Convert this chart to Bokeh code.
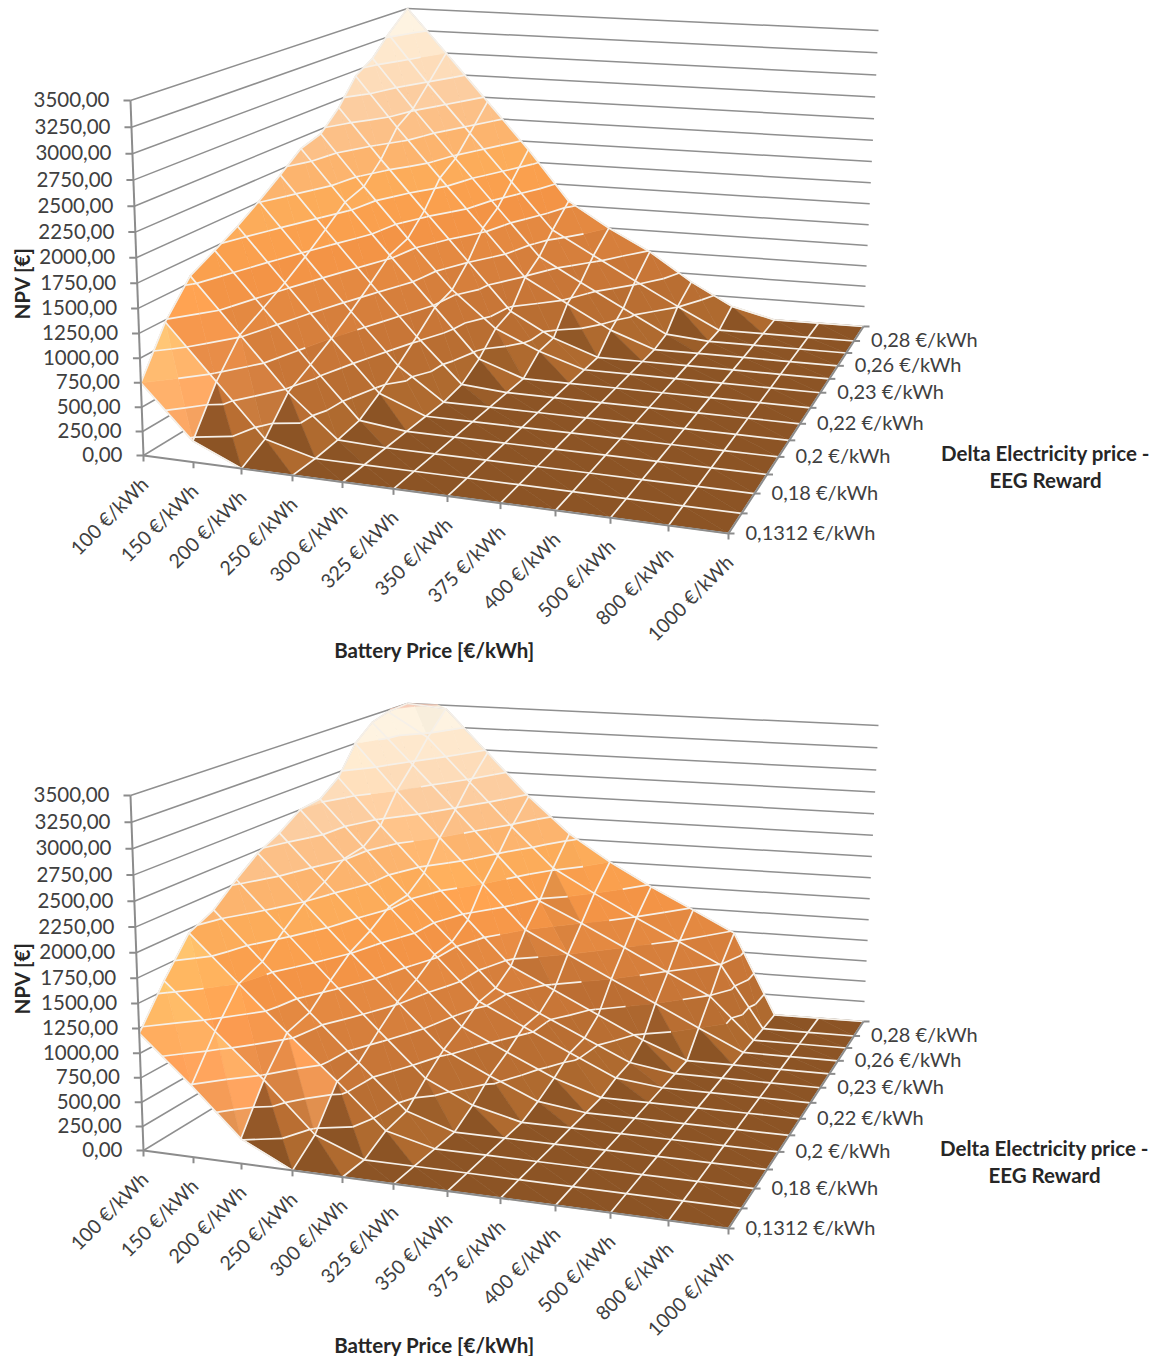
import numpy as np
from bokeh.core.properties import value
from bokeh.embed import file_html
from bokeh.layouts import column
from bokeh.models import Range1d
from bokeh.plotting import figure
from bokeh.resources import INLINE

PRICE_LABELS = ["100 €/kWh", "150 €/kWh", "200 €/kWh", "250 €/kWh", "300 €/kWh", "325 €/kWh",
                "350 €/kWh", "375 €/kWh", "400 €/kWh", "500 €/kWh", "800 €/kWh", "1000 €/kWh"]
DELTA_LABELS = ["0,1312 €/kWh", "0,18 €/kWh", "0,2 €/kWh", "0,22 €/kWh", "0,23 €/kWh", "0,26 €/kWh", "0,28 €/kWh"]
NPV_TICKS = [0, 250, 500, 750, 1000, 1250, 1500, 1750, 2000, 2250, 2500, 2750, 3000, 3250, 3500]

# one row per series, front (0,1312) to back; columns follow PRICE_LABELS
NPV_TOP = [
    [750, 220, 0, 0, 0, 0, 0, 0, 0, 0, 0, 0],
    [1230, 680, 140, 0, 0, 0, 0, 0, 0, 0, 0, 0],
    [1570, 1020, 470, 20, 0, 0, 0, 0, 0, 0, 0, 0],
    [1710, 1160, 610, 60, 0, 0, 0, 0, 0, 0, 0, 0],
    [1850, 1300, 750, 200, 0, 0, 0, 0, 0, 0, 0, 0],
    [2010, 1460, 910, 360, 0, 0, 0, 0, 0, 0, 0, 0],
    [2190, 1640, 1090, 540, 40, 0, 0, 0, 0, 0, 0, 0],
    [2380, 1830, 1280, 730, 180, 0, 0, 0, 0, 0, 0, 0],
    [2450, 1900, 1350, 800, 390, 170, 0, 0, 0, 0, 0, 0],
    [2660, 2110, 1560, 1010, 460, 185, 0, 0, 0, 0, 0, 0],
    [2940, 2390, 1840, 1290, 740, 465, 190, 0, 0, 0, 0, 0],
    [3070, 2520, 1970, 1420, 870, 595, 320, 45, 0, 0, 0, 0],
    [3280, 2730, 2180, 1630, 1080, 805, 530, 255, 0, 0, 0, 0],
    [3500, 3000, 2450, 1900, 1300, 1000, 740, 400, 130, 0, 0, 0],
]
NPV_BOTTOM = [
    [1200, 740, 260, 0, 0, 0, 0, 0, 0, 0, 0, 0],
    [1600, 1150, 710, 200, 0, 0, 0, 0, 0, 0, 0, 0],
    [1960, 1500, 1050, 600, 130, 0, 0, 0, 0, 0, 0, 0],
    [2080, 1600, 1120, 640, 170, 0, 0, 0, 0, 0, 0, 0],
    [2290, 1810, 1330, 840, 370, 130, 0, 0, 0, 0, 0, 0],
    [2470, 1990, 1510, 1020, 540, 300, 70, 0, 0, 0, 0, 0],
    [2590, 2110, 1620, 1130, 650, 410, 170, 0, 0, 0, 0, 0],
    [2750, 2260, 1770, 1280, 790, 550, 300, 60, 0, 0, 0, 0],
    [2780, 2290, 1790, 1300, 810, 560, 320, 80, 0, 0, 0, 0],
    [2940, 2440, 1940, 1440, 940, 700, 450, 200, 0, 0, 0, 0],
    [3250, 2750, 2250, 1750, 1250, 1000, 750, 500, 250, 0, 0, 0],
    [3420, 2970, 2480, 1980, 1480, 1250, 1000, 740, 490, 0, 0, 0],
    [3480, 3210, 2720, 2230, 1770, 1500, 1240, 990, 740, 0, 0, 0],
    [3650, 3460, 2970, 2480, 2060, 1750, 1480, 1230, 980, 0, 0, 0],
]

BAND_RGB = [(175, 106, 47), (185, 110, 50), (200, 118, 55), (214, 127, 60), (228, 137, 65), (243, 148, 70),
            (250, 160, 78), (252, 172, 90), (252, 180, 110), (252, 192, 135), (252, 205, 160), (253, 220, 185),
            (254, 232, 205), (254, 243, 225), (248, 205, 185)]

NI, NJ = 12, 14
ZMAX = 3500.0

# picture geometry of the 3D box
FLOOR = np.array([(143, 455), (728, 533), (863, 326), (410, 292)], float)
CEIL = np.array([(130, 100), (742, 188), (878, 30), (407, 8)], float)
FRONT_U = (np.array([143, 193, 241, 292, 342, 393, 447, 500, 555, 610, 668, 728.0]) - 143) / 585
BACK_U = (np.array([410, 447, 487, 527, 567, 607, 648, 690, 731, 774, 818, 863.0]) - 410) / 453
DEPTH_T = np.array([0, .097, .193, .285, .37, .45, .53, .607, .68, .747, .81, .872, .93, 1.0])
Z_WARP = 0.06
IDX_I, IDX_J = np.arange(NI, dtype=float), np.arange(NJ, dtype=float)


def on_plane(B, uf, ub, t):
    f = B[0][:, None] + (B[1] - B[0])[:, None] * uf
    b = B[3][:, None] + (B[2] - B[3])[:, None] * ub
    return f + (b - f) * t


def project(i, j, z):
    z = np.minimum(np.asarray(z, float), ZMAX) / 3500
    uf = np.interp(i, IDX_I, FRONT_U)
    ub = np.interp(i, IDX_I, BACK_U)
    t = np.interp(j, IDX_J, DEPTH_T)
    s = z / (1 + Z_WARP * (1 - z))
    p0 = on_plane(FLOOR, uf, ub, t)
    p1 = on_plane(CEIL, uf, ub, t)
    p = p0 + (p1 - p0) * s
    return p[0], p[1]


def clip(poly, level, keep_above):
    out = []
    for a, b in zip(poly, poly[1:] + poly[:1]):
        ina = a[2] >= level if keep_above else a[2] <= level
        inb = b[2] >= level if keep_above else b[2] <= level
        if ina:
            out.append(a)
        if ina != inb:
            t = (level - a[2]) / (b[2] - a[2])
            out.append((a[0] + t * (b[0] - a[0]), a[1] + t * (b[1] - a[1]), level))
    return out


def shade(dzdi, dzdj, k):
    m = 0.8 + 0.2 * min(1.0, max(0.0, -dzdi - 0.6 * dzdj) / 100.0)
    m += 0.002 * max(0.0, min(-dzdi, dzdj) - 300.0)
    m = min(m, 1.4)
    if k >= 8:
        m = max(m, 0.98)
    mix = max(0.0, m - 1.0) * 0.5
    out = []
    for c in BAND_RGB[k]:
        c = min(255.0, c * m)
        out.append(int(c + mix * (255 - c)))
    return "#%02x%02x%02x" % tuple(out)


def surface(Z):
    xs, ys, cols = [], [], []
    lx, ly = [], []
    for j in range(NJ - 2, -1, -1):
        for i in range(NI - 1):
            t2 = [(i, j + 1, Z[j + 1][i]), (i + 1, j, Z[j][i + 1]), (i + 1, j + 1, Z[j + 1][i + 1])]
            t1 = [(i, j, Z[j][i]), (i + 1, j, Z[j][i + 1]), (i, j + 1, Z[j + 1][i])]
            g2 = (t2[2][2] - t2[0][2], t2[2][2] - t2[1][2])
            g1 = (t1[1][2] - t1[0][2], t1[2][2] - t1[0][2])
            for tri, g in ((t2, g2), (t1, g1)):
                zs = [v[2] for v in tri]
                for k in range(15):
                    lo = 250.0 * k
                    if max(zs) < lo or (k < 14 and min(zs) > lo + 250):
                        continue
                    poly = clip(tri, lo, True)
                    if k < 14 and len(poly) >= 3:
                        poly = clip(poly, lo + 250, False)
                    if len(poly) < 3:
                        continue
                    px, py = project([p[0] for p in poly], [p[1] for p in poly], [p[2] for p in poly])
                    area = 0.5 * abs(np.dot(px, np.roll(py, 1)) - np.dot(py, np.roll(px, 1)))
                    if area < 0.02:
                        continue
                    xs.append(px.tolist()); ys.append(py.tolist()); cols.append(shade(g[0], g[1], k))
                if max(zs) > min(zs):
                    for lev in NPV_TICKS[1:-1]:
                        pts = []
                        for a, b in zip(tri, tri[1:] + tri[:1]):
                            if (a[2] - lev) * (b[2] - lev) < 0:
                                t = (lev - a[2]) / (b[2] - a[2])
                                pts.append((a[0] + t * (b[0] - a[0]), a[1] + t * (b[1] - a[1]), lev))
                        if len(pts) == 2:
                            px, py = project([p[0] for p in pts], [p[1] for p in pts], [p[2] for p in pts])
                            lx.append(px.tolist()); ly.append(py.tolist())
    for i in range(NI):
        px, py = project([i] * NJ, list(range(NJ)), [Z[j][i] for j in range(NJ)])
        lx.append(px.tolist()); ly.append(py.tolist())
    for j in range(NJ):
        px, py = project(list(range(NI)), [j] * NI, Z[j])
        lx.append(px.tolist()); ly.append(py.tolist())
    return xs, ys, cols, lx, ly


def make_chart(Z, height, xoff_text):
    p = figure(width=1160, height=height, x_range=Range1d(0, 1160), y_range=Range1d(height, 0),
               output_backend="svg", toolbar_location=None, min_border=0)
    p.axis.visible = False
    p.grid.visible = False
    p.outline_line_color = None
    p.background_fill_color = "white"
    AX = "#8c8c8c"
    gx, gy = [], []
    for z in NPV_TICKS:
        a = project([0, 0], [0, 13], [z, z])
        b = project([0, 11], [13, 13], [z, z])
        gx.append(a[0].tolist()); gy.append(a[1].tolist())
        gx.append(b[0].tolist()); gy.append(b[1].tolist())
    p.multi_line(gx, gy, line_color="#8f8f8f", line_width=1.5)

    xs, ys, cols, lx, ly = surface(Z)
    p.patches(xs=xs, ys=ys, fill_color=cols, line_color=cols, line_width=0.6)

    ex, ey = [], []
    for seq in ([(0, j) for j in range(NJ)], [(i, NJ - 1) for i in range(NI)], [(i, 0) for i in range(NI)]):
        px, py = project([s[0] for s in seq], [s[1] for s in seq], [Z[s[1]][s[0]] for s in seq])
        ex.append(px.tolist()); ey.append(py.tolist())
    p.multi_line(ex, ey, line_color="#c4c4c4", line_width=1.2)
    p.multi_line(lx, ly, line_color="#f6f0e8", line_width=1.7)

    ax, ay = [], []
    for a in (project([0, 0], [0, 0], [0, 3500]), project([0, 11], [0, 0], [0, 0]), project([11, 11], [0, 13], [0, 0])):
        ax.append(a[0].tolist()); ay.append(a[1].tolist())
    for z in NPV_TICKS:
        x0, y0 = project([0], [0], [z])
        ax.append([x0[0] - 7, x0[0]]); ay.append([y0[0], y0[0]])
    for i in range(NI):
        x0, y0 = project([i], [0], [0])
        ax.append([x0[0], x0[0]]); ay.append([y0[0], y0[0] + 6])
    for j in range(NJ):
        x0, y0 = project([11], [j], [0])
        ax.append([x0[0], x0[0] + 6]); ay.append([y0[0], y0[0]])
    p.multi_line(ax, ay, line_color=AX, line_width=2)

    font = value("Lato")
    TC = "#404040"
    zx, zy = project([0] * len(NPV_TICKS), [0] * len(NPV_TICKS), NPV_TICKS)
    p.text(x=(zx - 21).tolist(), y=(zy - 1).tolist(), text=["%d,00" % z for z in NPV_TICKS], text_align="right",
           text_baseline="middle", text_font=font, text_font_size="20.5px", text_color=TC)
    px, py = project(list(range(NI)), [0] * NI, [0] * NI)
    p.text(x=(px + 1).tolist(), y=(py + 25).tolist(), text=PRICE_LABELS, angle=np.radians(45), text_align="right",
           text_baseline="middle", text_font=font, text_font_size="19.6px", text_color=TC)
    jj = list(range(0, 13, 2))
    dx, dy = project([11] * len(jj), jj, [0] * len(jj))
    p.text(x=(dx + 17).tolist(), y=(dy - 2).tolist(), text=DELTA_LABELS, text_align="left",
           text_baseline="middle", text_font=font, text_font_size="20px", text_color=TC)
    p.text(x=[21], y=[283], text=["NPV [€]"], angle=np.pi / 2, text_align="center", text_baseline="middle",
           text_font=font, text_font_style="bold", text_font_size="20.5px", text_color="#262626")
    p.text(x=[434], y=[649], text=["Battery Price [€/kWh]"], text_align="center", text_baseline="middle",
           text_font=font, text_font_style="bold", text_font_size="20.5px", text_color="#262626")
    p.text(x=[1045 + xoff_text, 1045 + xoff_text], y=[452, 479], text=["Delta Electricity price -", "EEG Reward"],
           text_align="center", text_baseline="middle", text_font=font, text_font_style="bold",
           text_font_size="20.5px", text_color="#262626")
    return p


top = make_chart(NPV_TOP, 695, 0)
bottom = make_chart(NPV_BOTTOM, 661, -1)
layout = column(top, bottom, spacing=0)
open("out.html", "w").write(file_html(layout, INLINE))
